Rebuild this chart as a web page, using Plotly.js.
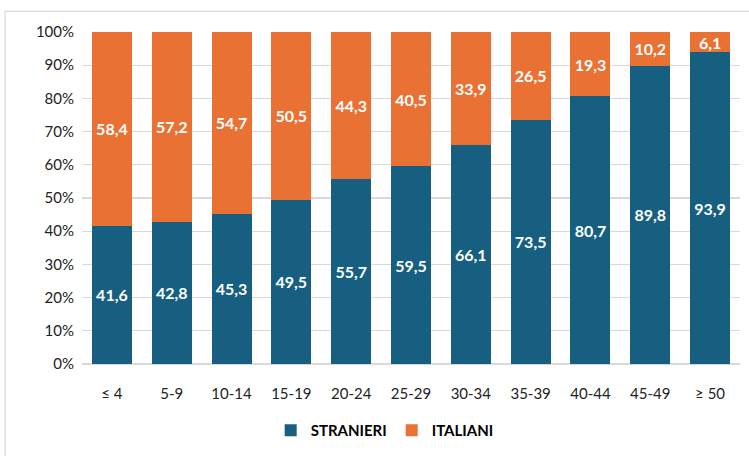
<!DOCTYPE html>
<html>
<head>
<meta charset="utf-8">
<script src="https://cdn.plot.ly/plotly-3.0.1.min.js"></script>
<style>html,body{margin:0;padding:0;background:#fff;}#chart{width:749px;height:456px;}</style>
</head>
<body>
<div id="chart"></div>
<script>
const categories = ["≤ 4","5-9","10-14","15-19","20-24","25-29","30-34","35-39","40-44","45-49","≥ 50"];
const stranieri = [41.6,42.8,45.3,49.5,55.7,59.5,66.1,73.5,80.7,89.8,93.9];
const italiani = [58.4,57.2,54.7,50.5,44.3,40.5,33.9,26.5,19.3,10.2,6.1];
const yTicks = [0,10,20,30,40,50,60,70,80,90,100];

const fmt = v => v.toFixed(1).replace('.', ',');
const font = "Lato, 'Open Sans', sans-serif";

const common = {
  type: 'bar',
  x: categories,
  textposition: 'inside',
  insidetextanchor: 'middle',
  textangle: 0,
  textfont: {family: font, size: 16, color: '#ffffff', weight: 'bold'},
  hoverinfo: 'none',
  cliponaxis: false
};

const data = [
  Object.assign({}, common, {name: 'STRANIERI', y: stranieri, text: stranieri.map(fmt), marker: {color: '#175F80'}}),
  Object.assign({}, common, {name: 'ITALIANI', y: italiani, text: italiani.map(fmt), marker: {color: '#EA7134'}})
];

const layout = {
  width: 749, height: 456,
  margin: {l: 82, r: 9, t: 32, b: 88},
  barmode: 'stack',
  bargap: 0.33,
  uniformtext: {mode: 'show', minsize: 16},
  paper_bgcolor: '#ffffff',
  plot_bgcolor: '#ffffff',
  showlegend: true,
  legend: {orientation: 'h', x: 0.46, xanchor: 'center', y: -0.2, yanchor: 'middle',
    font: {family: font, size: 15, color: '#000000', weight: 'bold'}, traceorder: 'normal', itemwidth: 30},
  xaxis: {tickfont: {family: font, size: 15, color: '#222'}, showgrid: false, showline: false,
    ticks: 'outside', ticklen: 16, tickcolor: 'rgba(0,0,0,0)', fixedrange: true},
  yaxis: {range: [0, 100], tickvals: yTicks, ticktext: yTicks.map(v => v + '%'),
    tickfont: {family: font, size: 15, color: '#222'}, gridcolor: '#d9d9d9', gridwidth: 1.3,
    zeroline: true, zerolinecolor: '#d9d9d9', zerolinewidth: 1.3, ticks: 'outside', ticklen: 4, tickcolor: 'rgba(0,0,0,0)', showline: false},
  shapes: [{type: 'rect', xref: 'paper', yref: 'paper', x0: -0.117, x1: 1.05, y0: -0.35, y1: 1.0625,
    line: {color: '#d0d0d0', width: 1}, layer: 'below'}]
};

Plotly.newPlot('chart', data, layout, {displayModeBar: false, staticPlot: true});
</script>
</body>
</html>
